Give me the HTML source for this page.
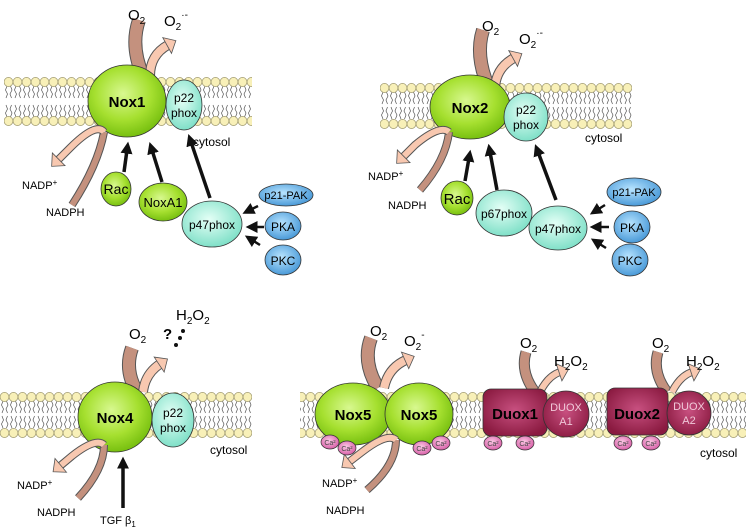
<!DOCTYPE html>
<html><head><meta charset="utf-8"><style>
html,body{margin:0;padding:0;background:#fff;}
svg{display:block;font-family:"Liberation Sans",sans-serif;}
</style></head><body>
<svg width="750" height="529" viewBox="0 0 750 529" xmlns="http://www.w3.org/2000/svg">
<defs>
<radialGradient id="g" cx="45%" cy="40%" r="60%"><stop offset="0" stop-color="#d8f890"/><stop offset="0.6" stop-color="#a6e030"/><stop offset="1" stop-color="#78c010"/></radialGradient>
<radialGradient id="c" cx="45%" cy="40%" r="60%"><stop offset="0" stop-color="#e4fff6"/><stop offset="1" stop-color="#80e0c8"/></radialGradient>
<radialGradient id="b" cx="45%" cy="40%" r="60%"><stop offset="0" stop-color="#b8e4ff"/><stop offset="1" stop-color="#4a9ad8"/></radialGradient>
<radialGradient id="m" cx="50%" cy="45%" r="60%"><stop offset="0" stop-color="#c85080"/><stop offset="1" stop-color="#8a1a40"/></radialGradient>
<radialGradient id="p" cx="45%" cy="40%" r="60%"><stop offset="0" stop-color="#fbc8e4"/><stop offset="1" stop-color="#d860a8"/></radialGradient>
<pattern id="L1" x="4" y="77" width="9" height="50" patternUnits="userSpaceOnUse"><g stroke="#555" stroke-width="0.7" fill="none"><path d="M3,9 l-1.5,4 l2,4 l-1.5,4"/><path d="M6.5,9 l1.5,4 l-2,4 l1.5,4"/><path d="M3,40 l-1.5,-4 l2,-4 l-1.5,-4"/><path d="M6.5,40 l1.5,-4 l-2,-4 l1.5,-4"/></g><ellipse cx="4.5" cy="5" rx="4.4" ry="4.6" fill="#f8f0b8" stroke="#a09a70" stroke-width="0.7"/><ellipse cx="4.5" cy="44" rx="4.4" ry="4.6" fill="#f8f0b8" stroke="#a09a70" stroke-width="0.7"/></pattern>
<pattern id="L2" x="380" y="83" width="9" height="50" patternUnits="userSpaceOnUse"><g stroke="#555" stroke-width="0.7" fill="none"><path d="M3,9 l-1.5,4 l2,4 l-1.5,4"/><path d="M6.5,9 l1.5,4 l-2,4 l1.5,4"/><path d="M3,36 l-1.5,-4 l2,-4 l-1.5,-4"/><path d="M6.5,36 l1.5,-4 l-2,-4 l1.5,-4"/></g><ellipse cx="4.5" cy="5" rx="4.4" ry="4.6" fill="#f8f0b8" stroke="#a09a70" stroke-width="0.7"/><ellipse cx="4.5" cy="41" rx="4.4" ry="4.6" fill="#f8f0b8" stroke="#a09a70" stroke-width="0.7"/></pattern>
<pattern id="L3" x="0" y="392" width="9" height="50" patternUnits="userSpaceOnUse"><g stroke="#555" stroke-width="0.7" fill="none"><path d="M3,9 l-1.5,4 l2,4 l-1.5,4"/><path d="M6.5,9 l1.5,4 l-2,4 l1.5,4"/><path d="M3,36 l-1.5,-4 l2,-4 l-1.5,-4"/><path d="M6.5,36 l1.5,-4 l-2,-4 l1.5,-4"/></g><ellipse cx="4.5" cy="5" rx="4.4" ry="4.6" fill="#f8f0b8" stroke="#a09a70" stroke-width="0.7"/><ellipse cx="4.5" cy="41" rx="4.4" ry="4.6" fill="#f8f0b8" stroke="#a09a70" stroke-width="0.7"/></pattern>
<marker id="ah" viewBox="0 0 10 10" refX="3" refY="5" markerWidth="12" markerHeight="12" markerUnits="userSpaceOnUse" orient="auto"><path d="M0,0 L10,5 L0,10 z" fill="#111"/></marker>
<marker id="pk" viewBox="0 0 12 20" refX="2" refY="10" markerWidth="12" markerHeight="20" markerUnits="userSpaceOnUse" orient="auto"><path d="M1,1 L11,10 L1,19 z" fill="#f8c8b0" stroke="#555" stroke-width="0.8"/></marker>
</defs>

<!-- membranes -->
<rect x="4" y="77" width="248" height="50" fill="url(#L1)"/>
<rect x="380" y="83" width="252" height="46" fill="url(#L2)"/>
<rect x="0" y="392" width="252" height="46" fill="url(#L3)"/>
<rect x="300" y="392" width="446" height="46" fill="url(#L3)"/>

<!-- ===== Panel 1 ===== -->
<path d="M139,20 Q130,46 143,76" stroke="#555" stroke-width="14" fill="none"/>
<path d="M139,20 Q130,46 143,76" stroke="#c4917e" stroke-width="12" fill="none"/>
<path d="M150,76 Q150,55 168,45" stroke="#555" stroke-width="10" fill="none"/>
<path d="M150,76 Q150,55 168,45" stroke="#f8c8b0" stroke-width="8" fill="none" marker-end="url(#pk)"/>
<ellipse cx="127" cy="101" rx="39" ry="36" fill="url(#g)" stroke="#333" stroke-width="0.8"/>
<ellipse cx="184" cy="105" rx="18" ry="25" fill="url(#c)" stroke="#333" stroke-width="0.8"/>
<path d="M72,205 Q98,165 104,132" stroke="#555" stroke-width="8" fill="none"/>
<path d="M72,205 Q98,165 104,132" stroke="#c4917e" stroke-width="6" fill="none"/>
<path d="M104,132 Q96,122 70,148 L58,160" stroke="#555" stroke-width="8" fill="none"/>
<path d="M104,132 Q96,122 70,148 L58,160" stroke="#f8c8b0" stroke-width="6" fill="none" marker-end="url(#pk)"/>
<text x="127" y="107" font-size="15" font-weight="bold" text-anchor="middle">Nox1</text>
<text x="184" y="102" font-size="12" text-anchor="middle">p22</text>
<text x="184" y="117" font-size="12" text-anchor="middle">phox</text>
<text x="193" y="146" font-size="12">cytosol</text>
<text x="128" y="20" font-size="15">O<tspan font-size="10" dy="4">2</tspan></text>
<text x="164" y="26" font-size="15">O<tspan font-size="10" dy="4">2</tspan><tspan font-size="10" dy="-12">·-</tspan></text>
<text x="22" y="189" font-size="11">NADP<tspan font-size="8" dy="-4">+</tspan></text>
<text x="46" y="216" font-size="11">NADPH</text>
<g stroke="#111" stroke-width="3.5" marker-end="url(#ah)">
<line x1="124" y1="172" x2="127" y2="150"/>
<line x1="162" y1="182" x2="152" y2="150"/>
<line x1="210" y1="198" x2="191" y2="142"/>
<line x1="258" y1="206" x2="250" y2="210" stroke-width="2.5"/>
<line x1="264" y1="227" x2="254" y2="227" stroke-width="2.5"/>
<line x1="260" y1="245" x2="252" y2="240" stroke-width="2.5"/>
</g>
<ellipse cx="116" cy="189" rx="15" ry="17" fill="url(#g)" stroke="#333" stroke-width="0.8"/>
<text x="116" y="194" font-size="14" text-anchor="middle">Rac</text>
<ellipse cx="163" cy="202" rx="24" ry="19" fill="url(#g)" stroke="#333" stroke-width="0.8"/>
<text x="163" y="207" font-size="13" text-anchor="middle">NoxA1</text>
<ellipse cx="212" cy="224" rx="30" ry="23" fill="url(#c)" stroke="#333" stroke-width="0.8"/>
<text x="212" y="229" font-size="12" text-anchor="middle">p47phox</text>
<ellipse cx="286" cy="195" rx="27" ry="11" fill="url(#b)" stroke="#333" stroke-width="0.8"/>
<text x="286" y="199" font-size="11" text-anchor="middle">p21-PAK</text>
<ellipse cx="283" cy="226" rx="18" ry="14" fill="url(#b)" stroke="#333" stroke-width="0.8"/>
<text x="283" y="231" font-size="12" text-anchor="middle">PKA</text>
<ellipse cx="283" cy="260" rx="18" ry="15" fill="url(#b)" stroke="#333" stroke-width="0.8"/>
<text x="283" y="265" font-size="12" text-anchor="middle">PKC</text>

<!-- ===== Panel 2 ===== -->
<path d="M483,30 Q475,55 488,86" stroke="#555" stroke-width="14" fill="none"/>
<path d="M483,30 Q475,55 488,86" stroke="#c4917e" stroke-width="12" fill="none"/>
<path d="M495,88 Q496,68 514,58" stroke="#555" stroke-width="10" fill="none"/>
<path d="M495,88 Q496,68 514,58" stroke="#f8c8b0" stroke-width="8" fill="none" marker-end="url(#pk)"/>
<ellipse cx="470" cy="107" rx="40" ry="32" fill="url(#g)" stroke="#333" stroke-width="0.8"/>
<ellipse cx="526" cy="117" rx="22" ry="24" fill="url(#c)" stroke="#333" stroke-width="0.8"/>
<path d="M420,190 Q446,160 449,132" stroke="#555" stroke-width="8" fill="none"/>
<path d="M420,190 Q446,160 449,132" stroke="#c4917e" stroke-width="6" fill="none"/>
<path d="M449,132 Q440,124 415,145 L403,157" stroke="#555" stroke-width="8" fill="none"/>
<path d="M449,132 Q440,124 415,145 L403,157" stroke="#f8c8b0" stroke-width="6" fill="none" marker-end="url(#pk)"/>
<text x="470" y="113" font-size="15" font-weight="bold" text-anchor="middle">Nox2</text>
<text x="526" y="114" font-size="12" text-anchor="middle">p22</text>
<text x="526" y="129" font-size="12" text-anchor="middle">phox</text>
<text x="585" y="142" font-size="12">cytosol</text>
<text x="482" y="31" font-size="15">O<tspan font-size="10" dy="4">2</tspan></text>
<text x="519" y="44" font-size="15">O<tspan font-size="10" dy="4">2</tspan><tspan font-size="10" dy="-12">·-</tspan></text>
<text x="368" y="180" font-size="11">NADP<tspan font-size="8" dy="-4">+</tspan></text>
<text x="388" y="209" font-size="11">NADPH</text>
<g stroke="#111" stroke-width="3.5" marker-end="url(#ah)">
<line x1="465" y1="181" x2="469" y2="158"/>
<line x1="497" y1="190" x2="490" y2="152"/>
<line x1="556" y1="200" x2="538" y2="152"/>
<line x1="605" y1="205" x2="597" y2="210" stroke-width="2.5"/>
<line x1="609" y1="227" x2="598" y2="227" stroke-width="2.5"/>
<line x1="606" y1="248" x2="598" y2="243" stroke-width="2.5"/>
</g>
<ellipse cx="457" cy="198" rx="16" ry="17" fill="url(#g)" stroke="#333" stroke-width="0.8"/>
<text x="457" y="204" font-size="15" text-anchor="middle">Rac</text>
<ellipse cx="504" cy="213" rx="28" ry="23" fill="url(#c)" stroke="#333" stroke-width="0.8"/>
<text x="504" y="218" font-size="12" text-anchor="middle">p67phox</text>
<ellipse cx="558" cy="228" rx="29" ry="22" fill="url(#c)" stroke="#333" stroke-width="0.8"/>
<text x="558" y="233" font-size="12" text-anchor="middle">p47phox</text>
<ellipse cx="634" cy="192" rx="27" ry="14" fill="url(#b)" stroke="#333" stroke-width="0.8"/>
<text x="634" y="196" font-size="11" text-anchor="middle">p21-PAK</text>
<ellipse cx="632" cy="227" rx="18" ry="16" fill="url(#b)" stroke="#333" stroke-width="0.8"/>
<text x="632" y="232" font-size="12" text-anchor="middle">PKA</text>
<ellipse cx="630" cy="260" rx="18" ry="16" fill="url(#b)" stroke="#333" stroke-width="0.8"/>
<text x="630" y="265" font-size="12" text-anchor="middle">PKC</text>

<!-- ===== Panel 3 ===== -->
<path d="M132,348 Q124,370 137,392" stroke="#555" stroke-width="14" fill="none"/>
<path d="M132,348 Q124,370 137,392" stroke="#c4917e" stroke-width="12" fill="none"/>
<path d="M143,392 Q145,374 160,364" stroke="#555" stroke-width="10" fill="none"/>
<path d="M143,392 Q145,374 160,364" stroke="#f8c8b0" stroke-width="8" fill="none" marker-end="url(#pk)"/>
<ellipse cx="115" cy="417" rx="37" ry="35" fill="url(#g)" stroke="#333" stroke-width="0.8"/>
<ellipse cx="173" cy="420" rx="21" ry="27" fill="url(#c)" stroke="#333" stroke-width="0.8"/>
<path d="M78,498 Q104,470 104,445" stroke="#555" stroke-width="8" fill="none"/>
<path d="M78,498 Q104,470 104,445" stroke="#c4917e" stroke-width="6" fill="none"/>
<path d="M104,445 Q96,437 72,456 L60,466" stroke="#555" stroke-width="8" fill="none"/>
<path d="M104,445 Q96,437 72,456 L60,466" stroke="#f8c8b0" stroke-width="6" fill="none" marker-end="url(#pk)"/>
<text x="115" y="423" font-size="15" font-weight="bold" text-anchor="middle">Nox4</text>
<text x="173" y="417" font-size="12" text-anchor="middle">p22</text>
<text x="173" y="432" font-size="12" text-anchor="middle">phox</text>
<text x="210" y="454" font-size="12">cytosol</text>
<text x="129" y="339" font-size="15">O<tspan font-size="10" dy="4">2</tspan></text>
<text x="176" y="320" font-size="15">H<tspan font-size="10" dy="4">2</tspan><tspan dy="-4">O</tspan><tspan font-size="10" dy="4">2</tspan></text>
<text x="163" y="339" font-size="15" font-weight="bold">?</text>
<circle cx="183" cy="331" r="2" fill="#111"/><circle cx="180" cy="338" r="2" fill="#111"/><circle cx="176" cy="345" r="2" fill="#111"/>
<line x1="123" y1="508" x2="123" y2="465" stroke="#111" stroke-width="3.5" marker-end="url(#ah)"/>
<text x="100" y="524" font-size="11">TGF β<tspan font-size="8" dy="3">1</tspan></text>
<text x="17" y="489" font-size="11">NADP<tspan font-size="8" dy="-4">+</tspan></text>
<text x="37" y="516" font-size="11">NADPH</text>

<!-- ===== Panel 4 ===== -->
<path d="M371,338 Q362,362 378,388" stroke="#555" stroke-width="14" fill="none"/>
<path d="M371,338 Q362,362 378,388" stroke="#c4917e" stroke-width="12" fill="none"/>
<path d="M384,388 Q388,368 406,360" stroke="#555" stroke-width="10" fill="none"/>
<path d="M384,388 Q388,368 406,360" stroke="#f8c8b0" stroke-width="8" fill="none" marker-end="url(#pk)"/>
<ellipse cx="353" cy="414" rx="38" ry="31" fill="url(#g)" stroke="#333" stroke-width="0.8"/>
<ellipse cx="419" cy="414" rx="34" ry="31" fill="url(#g)" stroke="#333" stroke-width="0.8"/>
<path d="M367,490 Q396,465 396,440" stroke="#555" stroke-width="8" fill="none"/>
<path d="M367,490 Q396,465 396,440" stroke="#c4917e" stroke-width="6" fill="none"/>
<path d="M396,440 Q388,432 362,452 L349,462" stroke="#555" stroke-width="8" fill="none"/>
<path d="M396,440 Q388,432 362,452 L349,462" stroke="#f8c8b0" stroke-width="6" fill="none" marker-end="url(#pk)"/>
<text x="353" y="420" font-size="15" font-weight="bold" text-anchor="middle">Nox5</text>
<text x="419" y="420" font-size="15" font-weight="bold" text-anchor="middle">Nox5</text>
<text x="370" y="336" font-size="15">O<tspan font-size="10" dy="4">2</tspan></text>
<text x="404" y="346" font-size="15">O<tspan font-size="10" dy="4">2</tspan><tspan font-size="10" dy="-12">-</tspan></text>
<text x="322" y="487" font-size="11">NADP<tspan font-size="8" dy="-4">+</tspan></text>
<text x="326" y="514" font-size="11">NADPH</text>

<!-- Duox1 -->
<path d="M526,352 Q520,372 535,392" stroke="#555" stroke-width="11" fill="none"/>
<path d="M526,352 Q520,372 535,392" stroke="#c4917e" stroke-width="9" fill="none"/>
<path d="M540,392 Q548,376 560,372" stroke="#555" stroke-width="8" fill="none"/>
<path d="M540,392 Q548,376 560,372" stroke="#f8c8b0" stroke-width="6" fill="none" marker-end="url(#pk)"/>
<rect x="483" y="389" width="64" height="47" rx="8" fill="url(#m)" stroke="#333" stroke-width="0.8"/>
<circle cx="566" cy="414" r="23" fill="url(#m)" stroke="#333" stroke-width="0.8"/>
<text x="515" y="419" font-size="15" font-weight="bold" text-anchor="middle">Duox1</text>
<text x="566" y="411" font-size="11" fill="#f0c8d8" text-anchor="middle">DUOX</text>
<text x="566" y="425" font-size="11" fill="#f0c8d8" text-anchor="middle">A1</text>
<text x="520" y="348" font-size="15">O<tspan font-size="10" dy="4">2</tspan></text>
<text x="554" y="366" font-size="15">H<tspan font-size="10" dy="4">2</tspan><tspan dy="-4">O</tspan><tspan font-size="10" dy="4">2</tspan></text>

<!-- Duox2 -->
<path d="M658,352 Q652,372 667,392" stroke="#555" stroke-width="11" fill="none"/>
<path d="M658,352 Q652,372 667,392" stroke="#c4917e" stroke-width="9" fill="none"/>
<path d="M672,392 Q680,376 692,372" stroke="#555" stroke-width="8" fill="none"/>
<path d="M672,392 Q680,376 692,372" stroke="#f8c8b0" stroke-width="6" fill="none" marker-end="url(#pk)"/>
<rect x="607" y="388" width="61" height="47" rx="8" fill="url(#m)" stroke="#333" stroke-width="0.8"/>
<circle cx="689" cy="413" r="22" fill="url(#m)" stroke="#333" stroke-width="0.8"/>
<text x="637" y="419" font-size="15" font-weight="bold" text-anchor="middle">Duox2</text>
<text x="689" y="410" font-size="11" fill="#f0c8d8" text-anchor="middle">DUOX</text>
<text x="689" y="424" font-size="11" fill="#f0c8d8" text-anchor="middle">A2</text>
<text x="652" y="348" font-size="15">O<tspan font-size="10" dy="4">2</tspan></text>
<text x="686" y="366" font-size="15">H<tspan font-size="10" dy="4">2</tspan><tspan dy="-4">O</tspan><tspan font-size="10" dy="4">2</tspan></text>
<text x="700" y="457" font-size="12">cytosol</text>

<!-- Ca -->
<g stroke="#333" stroke-width="0.7" fill="url(#p)">
<ellipse cx="330" cy="442" rx="9" ry="7"/><ellipse cx="347" cy="448" rx="9" ry="7"/>
<ellipse cx="422" cy="448" rx="9" ry="7"/><ellipse cx="441" cy="443" rx="9" ry="7"/>
<ellipse cx="493" cy="443" rx="9" ry="7"/><ellipse cx="525" cy="443" rx="9" ry="7"/>
<ellipse cx="623" cy="443" rx="9" ry="7"/><ellipse cx="651" cy="443" rx="9" ry="7"/>
</g>
<g font-size="7" fill="#444" text-anchor="middle">
<text x="330" y="445">Ca²</text><text x="347" y="451">Ca²</text>
<text x="422" y="451">Ca²</text><text x="441" y="446">Ca²</text>
<text x="493" y="446">Ca²</text><text x="525" y="446">Ca²</text>
<text x="623" y="446">Ca²</text><text x="651" y="446">Ca²</text>
</g>
</svg>
</body></html>
